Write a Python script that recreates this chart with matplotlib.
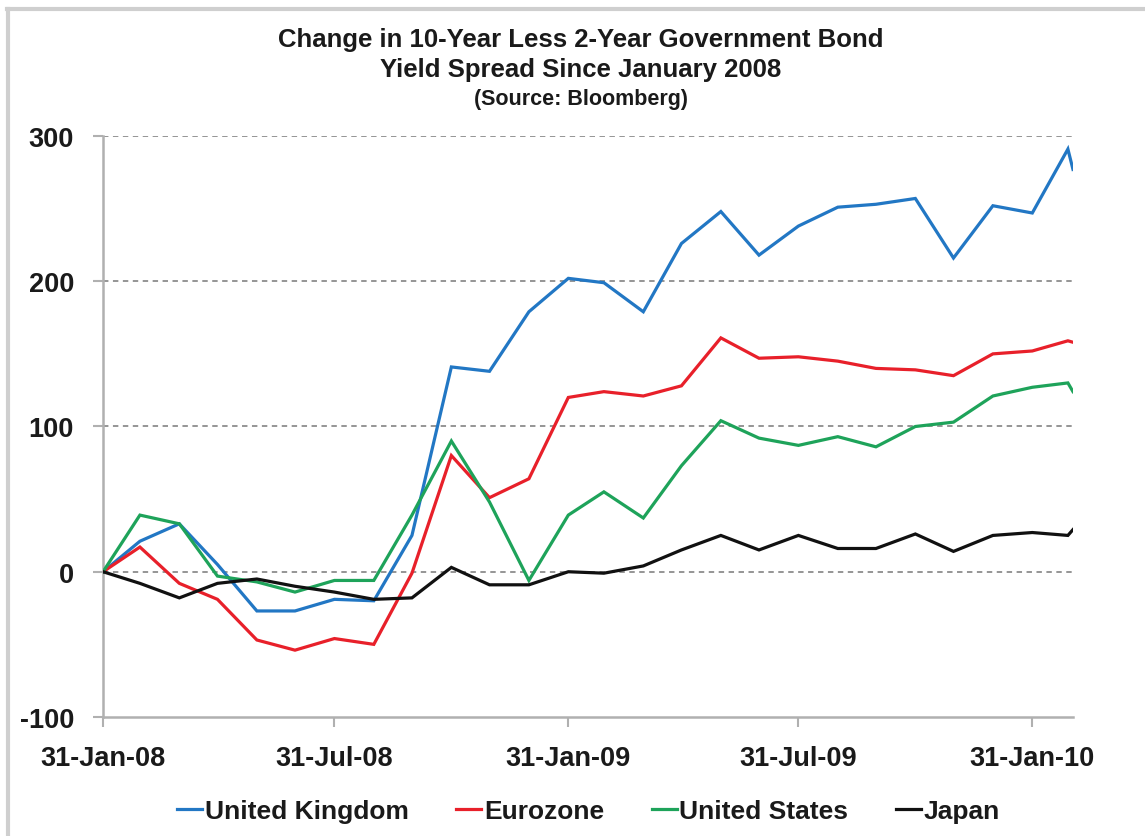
import datetime as dt
import matplotlib
matplotlib.use("Agg")
import matplotlib.pyplot as plt
import matplotlib.dates as mdates
from matplotlib.lines import Line2D

# ==========================
# Data (bp change since 31-Jan-08)
# ==========================

dates = [
    "2008-01-31", "2008-02-29", "2008-03-31", "2008-04-30", "2008-05-31", "2008-06-30",
    "2008-07-31", "2008-08-31", "2008-09-30", "2008-10-31", "2008-11-30", "2008-12-31",
    "2009-01-31", "2009-02-28", "2009-03-31", "2009-04-30", "2009-05-31", "2009-06-30",
    "2009-07-31", "2009-08-31", "2009-09-30", "2009-10-31", "2009-11-30", "2009-12-31",
    "2010-01-31", "2010-02-28", "2010-03-04",
]
uk = [0, 21, 33, 5, -27, -27, -19, -20, 25, 141, 138, 179, 202, 199, 179, 226, 248,
      218, 238, 251, 253, 257, 216, 252, 247, 291, 277]
eurozone = [0, 17, -8, -19, -47, -54, -46, -50, -1, 80, 51, 64, 120, 124, 121, 128, 161,
            147, 148, 145, 140, 139, 135, 150, 152, 159, 158]
us = [0, 39, 33, -3, -7, -14, -6, -6, 39, 90, 48, -6, 39, 55, 37, 73, 104,
      92, 87, 93, 86, 100, 103, 121, 127, 130, 124]
japan = [0, -8, -18, -8, -5, -10, -14, -19, -18, 3, -9, -9, 0, -1, 4, 15, 25,
         15, 25, 16, 16, 26, 14, 25, 27, 25, 29]

series_names = ["United Kingdom", "Eurozone", "United States", "Japan"]
series_colors = ["#2277c4", "#e8202a", "#1ea35a", "#111111"]

tick_dates = ["2008-01-31", "2008-07-31", "2009-01-31", "2009-07-31", "2010-01-31"]
y_ticks = [-100, 0, 100, 200, 300]

# ==========================
# Plot
# ==========================

plt.rcParams["font.family"] = ["Liberation Sans", "DejaVu Sans"]
plt.rcParams["font.weight"] = "bold"

x = [dt.datetime.strptime(d, "%Y-%m-%d") for d in dates]

fig = plt.figure(figsize=(11.45, 8.37), dpi=100)
ax = fig.add_axes([0.0900, 0.1422, 0.8471, 0.6941])

for vals, name, col in zip([uk, eurozone, us, japan], series_names, series_colors):
    ax.plot(x, vals, color=col, lw=2.3, label=name, solid_joinstyle="miter", zorder=3)

ax.set_ylim(-100, 300)
ax.set_xlim(x[0], x[-1])
ax.set_yticks(y_ticks)
ax.set_yticklabels([str(v) for v in y_ticks])
xt = [dt.datetime.strptime(d, "%Y-%m-%d") for d in tick_dates]
ax.set_xticks(xt)
ax.xaxis.set_major_formatter(mdates.DateFormatter("%d-%b-%y"))

# dotted gridlines for 0..300 only
for v in y_ticks[1:]:
    ax.axhline(v, color="#8c8c8c", lw=1.3, ls=(0, (3, 2.5)), zorder=1)

for s in ["top", "right"]:
    ax.spines[s].set_visible(False)
for s in ["left", "bottom"]:
    ax.spines[s].set_color("#b0b0b0")
    ax.spines[s].set_linewidth(1.8)

ax.tick_params(axis="both", colors="#b0b0b0", width=1.5, length=7,
               labelcolor="#1a1a1a", labelsize=19.5)
ax.tick_params(axis="x", pad=13)
ax.tick_params(axis="y", pad=14)
for lab in ax.get_xticklabels() + ax.get_yticklabels():
    lab.set_fontweight("bold")

# title
fig.text(0.507, 0.952, "Change in 10-Year Less 2-Year Government Bond",
         ha="center", va="center", fontsize=18.5, fontweight="bold", color="#1a1a1a")
fig.text(0.507, 0.916, "Yield Spread Since January 2008",
         ha="center", va="center", fontsize=18.5, fontweight="bold", color="#1a1a1a")
fig.text(0.507, 0.881, "(Source: Bloomberg)",
         ha="center", va="center", fontsize=15.5, fontweight="bold", color="#1a1a1a")

# legend
handles = [Line2D([0], [0], color=c, lw=2.3) for c in series_colors]
leg = fig.legend(handles, series_names, loc="center", bbox_to_anchor=(0.514, 0.030),
                 ncol=4, frameon=False, fontsize=19, handlelength=0.95,
                 handletextpad=0.1, columnspacing=1.8)
for t in leg.get_texts():
    t.set_fontweight("bold")
    t.set_color("#1a1a1a")

# light grey frame around the chart (top and left edges visible)
fig.add_artist(Line2D([0.006, 1.0], [0.988, 0.988], transform=fig.transFigure,
                      color="#cfcfcf", lw=3))
fig.add_artist(Line2D([0.007, 0.007], [0.0, 0.988], transform=fig.transFigure,
                      color="#cfcfcf", lw=3))

fig.savefig("out.png", dpi=100)
